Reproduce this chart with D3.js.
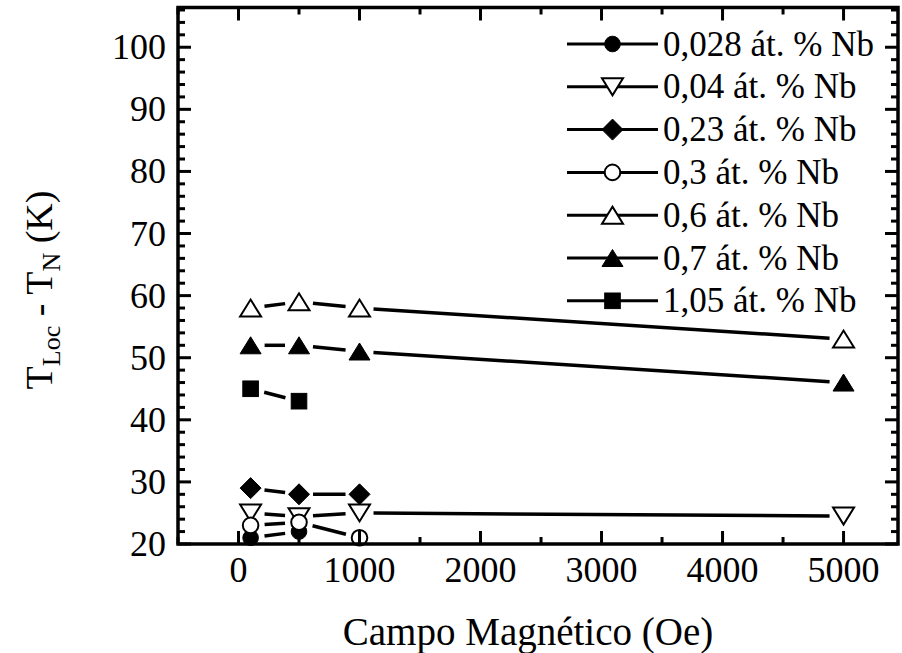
<!DOCTYPE html>
<html><head><meta charset="utf-8">
<script src="https://cdn.jsdelivr.net/npm/d3@7"></script>
<style>
html,body{margin:0;padding:0;background:#fff;}
</style></head>
<body><svg id="c" width="902" height="653" font-family="'Liberation Serif', 'Times New Roman', Times, 'DejaVu Serif', serif"></svg>
<script>
// ---- data ----
const seriesNames = ["0,028 át. % Nb","0,04 át. % Nb","0,23 át. % Nb","0,3 át. % Nb","0,6 át. % Nb","0,7 át. % Nb","1,05 át. % Nb"];
const markerTypes = ["circleFilled","triDownOpen","diamondFilled","circleOpen","triUpOpen","triUpFilled","squareFilled"];
const field_028 = [100, 500];          const val_028 = [21, 22];
const field_004 = [100, 500, 1000, 5000]; const val_004 = [25, 24.4, 25, 24.5];
const field_023 = [100, 500, 1000];    const val_023 = [29, 28, 28];
const field_03  = [100, 500, 1000];    const val_03  = [23, 23.5, 21];
const field_06  = [100, 500, 1000, 5000]; const val_06 = [58, 59, 58, 53];
const field_07  = [100, 500, 1000, 5000]; const val_07 = [52, 52, 51, 46];
const field_105 = [100, 500];          const val_105 = [45, 43];
const xTickLabels = [0, 1000, 2000, 3000, 4000, 5000];
const yTickLabels = [20, 30, 40, 50, 60, 70, 80, 90, 100];
const xTitle = "Campo Magnético (Oe)";

const fields = [field_028, field_004, field_023, field_03, field_06, field_07, field_105];
const vals = [val_028, val_004, val_023, val_03, val_06, val_07, val_105];
const series = seriesNames.map((n,i)=>({name:n, type:markerTypes[i], pts:fields[i].map((f,j)=>({x:f,y:vals[i][j]}))}));

// ---- layout ----
const L=178, R=898, T=7.5, B=544;
const svg = d3.select("#c");
const x = d3.scaleLinear().domain([-500, 5450]).range([L, R]);
const y = d3.scaleLinear().domain([20, 106.4]).range([B, T]);

function drawMarker(g, type, cx, cy, s) {
  s = s || 1;
  const filled = type.indexOf("Filled")>=0;
  const fill = filled ? "#000" : "#fff";
  let el;
  if (type.startsWith("circle")) {
    el = g.append("circle").attr("cx",cx).attr("cy",cy).attr("r",7.8*s);
  } else if (type.startsWith("triDown")) {
    const w=10.5*s, h=8.5*s;
    el = g.append("path").attr("d",`M${cx-w},${cy-h}L${cx+w},${cy-h}L${cx},${cy+h}Z`);
  } else if (type.startsWith("triUp")) {
    const w=10.5*s, h=8.5*s;
    el = g.append("path").attr("d",`M${cx-w},${cy+h}L${cx+w},${cy+h}L${cx},${cy-h}Z`);
  } else if (type.startsWith("diamond")) {
    const r=10.5*s;
    el = g.append("path").attr("d",`M${cx},${cy-r}L${cx+r},${cy}L${cx},${cy+r}L${cx-r},${cy}Z`);
  } else if (type.startsWith("square")) {
    const r=7.8*s;
    el = g.append("rect").attr("x",cx-r).attr("y",cy-r).attr("width",2*r).attr("height",2*r);
  }
  el.attr("fill",fill).attr("stroke","#000").attr("stroke-width",filled?1:2).attr("stroke-linejoin","miter");
}

// ---- data lines (with gaps near markers) ----
const gLines = svg.append("g");
const gap = 14;
series.forEach(s=>{
  for (let j=0;j<s.pts.length-1;j++){
    const x1=x(s.pts[j].x), y1=y(s.pts[j].y), x2=x(s.pts[j+1].x), y2=y(s.pts[j+1].y);
    const dx=x2-x1, dy=y2-y1, d=Math.hypot(dx,dy);
    if (d<=2*gap) continue;
    const ux=dx/d, uy=dy/d;
    gLines.append("line").attr("x1",x1+ux*gap).attr("y1",y1+uy*gap)
      .attr("x2",x2-ux*gap).attr("y2",y2-uy*gap)
      .attr("stroke","#000").attr("stroke-width",3.5);
  }
});
// ---- markers ----
const gMarks = svg.append("g");
series.forEach(s=>{
  s.pts.forEach(p=>drawMarker(gMarks, s.type, x(p.x), y(p.y)));
});

// ---- axes frame ----
const gAx = svg.append("g");
const major=13, minor=7, tw=3;
const xMinor = d3.range(-500, 5451, 500).filter(v=>v%1000!==0);
const yMinor = d3.range(20, 106.4, 2).filter(v=>v%10!==0);
[[B,-1],[T,1]].forEach(([yy,dir])=>{
  xTickLabels.forEach(v=>gAx.append("line").attr("x1",x(v)).attr("x2",x(v)).attr("y1",yy).attr("y2",yy+dir*major).attr("stroke","#000").attr("stroke-width",tw));
  xMinor.forEach(v=>gAx.append("line").attr("x1",x(v)).attr("x2",x(v)).attr("y1",yy).attr("y2",yy+dir*minor).attr("stroke","#000").attr("stroke-width",tw));
});
[[L,1],[R,-1]].forEach(([xx,dir])=>{
  yTickLabels.forEach(v=>gAx.append("line").attr("y1",y(v)).attr("y2",y(v)).attr("x1",xx).attr("x2",xx+dir*major).attr("stroke","#000").attr("stroke-width",tw));
  yMinor.forEach(v=>gAx.append("line").attr("y1",y(v)).attr("y2",y(v)).attr("x1",xx).attr("x2",xx+dir*minor).attr("stroke","#000").attr("stroke-width",tw));
});
gAx.append("rect").attr("x",L).attr("y",T).attr("width",R-L).attr("height",B-T)
  .attr("fill","none").attr("stroke","#000").attr("stroke-width",3.5);

// tick labels
xTickLabels.forEach(v=>svg.append("text").attr("x",x(v)).attr("y",B+38).attr("text-anchor","middle")
  .attr("font-size",36).text(v));
yTickLabels.forEach(v=>svg.append("text").attr("x",L-12).attr("y",y(v)+12).attr("text-anchor","end")
  .attr("font-size",36).text(v));

// axis titles
svg.append("text").attr("x",(L+R)/2-10).attr("y",645).attr("text-anchor","middle").attr("font-size",39).text(xTitle);
const yt = svg.append("text").attr("transform","translate(52,290) rotate(-90)").attr("text-anchor","middle").attr("font-size",38);
yt.append("tspan").text("T");
yt.append("tspan").attr("font-size",26).attr("dy",8).text("Loc");
yt.append("tspan").attr("dy",-8).text(" - T");
yt.append("tspan").attr("font-size",26).attr("dy",8).text("N");
yt.append("tspan").attr("dy",-8).text(" (K)");

// legend
const gLeg = svg.append("g");
const legY0 = 44, legDy = 42.8;
series.forEach((s,i)=>{
  const yy = legY0 + i*legDy;
  gLeg.append("line").attr("x1",567).attr("x2",658).attr("y1",yy).attr("y2",yy).attr("stroke","#000").attr("stroke-width",3);
  drawMarker(gLeg, s.type, 612.5, yy);
  gLeg.append("text").attr("x",663).attr("y",yy+11.5).attr("font-size",35).text(s.name);
});
</script></body></html>
